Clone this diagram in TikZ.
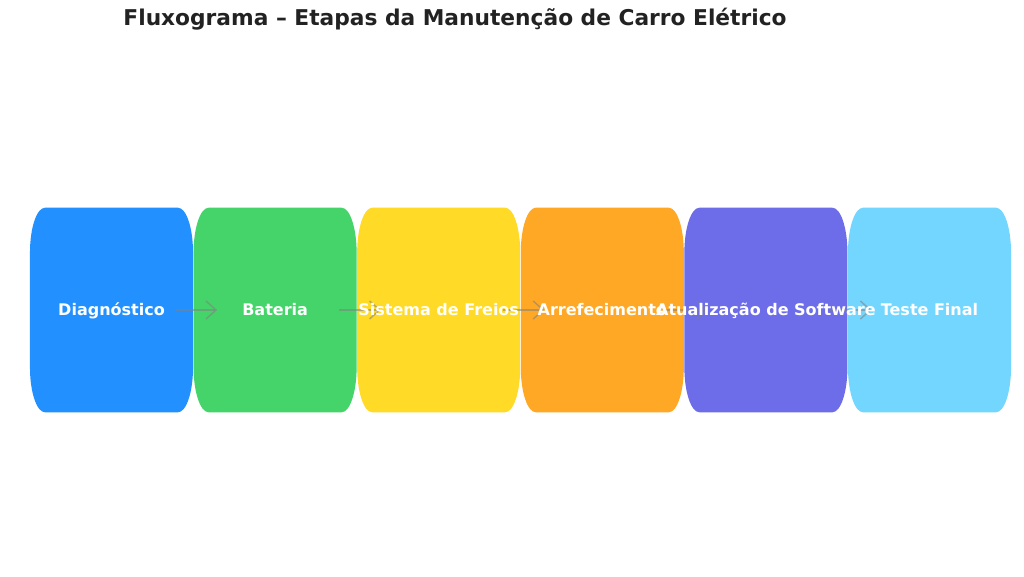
\documentclass[tikz,border=0pt]{standalone}
\usepackage{fontspec}
\setmainfont{DejaVu Sans}
\usetikzlibrary{arrows.meta}
\definecolor{c1}{HTML}{2290FF}
\definecolor{c2}{HTML}{45D46A}
\definecolor{c3}{HTML}{FFDA26}
\definecolor{c4}{HTML}{FFA826}
\definecolor{c5}{HTML}{6D6DE9}
\definecolor{c6}{HTML}{72D6FF}
\definecolor{titlecol}{HTML}{222222}
\tikzset{
  stagebox/.style={minimum width=121.9pt, minimum height=153pt, inner sep=0pt, draw=none},
  stagelabel/.style={text=white, font=\bfseries\fontsize{12}{14}\selectfont, inner sep=0pt, anchor=base},
  flowarrow/.style={draw=gray, opacity=0.55, line width=1.1pt, -{Straight Barb[length=7.5pt,width=13.5pt]}},
  titletext/.style={text=titlecol, font=\bfseries\fontsize{16.3}{20}\selectfont}
}
\newcommand{\ellbox}[2]{%
  \fill[#2] ([xshift=11.25pt]#1.north west) -- ([xshift=-11.25pt]#1.north east)
    arc[start angle=90,end angle=0,x radius=11.25pt,y radius=33.75pt]
    -- ([yshift=33.75pt]#1.south east)
    arc[start angle=0,end angle=-90,x radius=11.25pt,y radius=33.75pt]
    -- ([xshift=11.25pt]#1.south west)
    arc[start angle=270,end angle=180,x radius=11.25pt,y radius=33.75pt]
    -- ([yshift=-33.75pt]#1.north west)
    arc[start angle=180,end angle=90,x radius=11.25pt,y radius=33.75pt]
    -- cycle;}
\begin{document}
\begin{tikzpicture}[x=0.75pt,y=0.75pt]
\useasboundingbox[fill=white] (0,0) rectangle (1024,576);
\node[titletext] (title) at (455,556.5) {Fluxograma – Etapas da Manutenção de Carro Elétrico};
\foreach \i in {1,...,6}{
  \node[stagebox] (b\i) at ({111.5+163.6*(\i-1)},266) {};
}
\ellbox{b1}{c1}
\ellbox{b2}{c2}
\ellbox{b3}{c3}
\ellbox{b4}{c4}
\ellbox{b5}{c5}
\ellbox{b6}{c6}
\foreach \i [evaluate=\i as \j using int(\i+1)] in {1,...,5}{
  \draw[flowarrow] ([xshift=48pt]b\i.center) -- ([xshift=-43.5pt]b\j.center);
}
\node[stagelabel] (l1) at ([yshift=-4.3pt]b1.center) {Diagnóstico};
\node[stagelabel] (l2) at ([yshift=-4.3pt]b2.center) {Bateria};
\node[stagelabel] (l3) at ([yshift=-4.3pt]b3.center) {Sistema de Freios};
\node[stagelabel] (l4) at ([yshift=-4.3pt]b4.center) {Arrefecimento};
\node[stagelabel] (l5) at ([yshift=-4.3pt]b5.center) {Atualização de Software};
\node[stagelabel] (l6) at ([yshift=-4.3pt]b6.center) {Teste Final};
\end{tikzpicture}
\end{document}
